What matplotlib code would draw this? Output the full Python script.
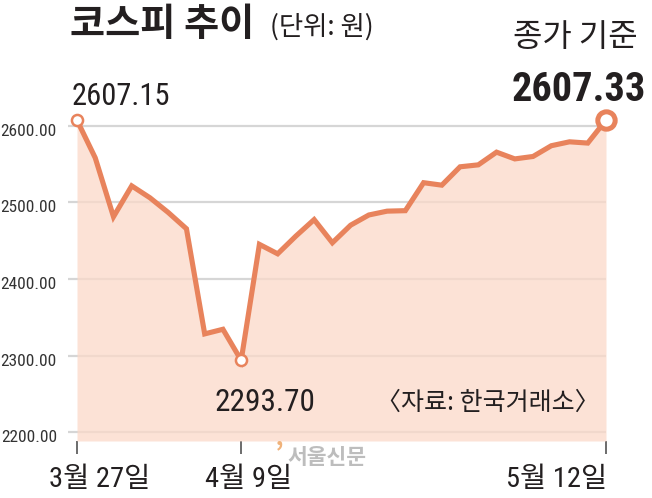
import matplotlib
matplotlib.use("Agg")
import matplotlib.pyplot as plt
from matplotlib.transforms import ScaledTranslation
import numpy as np

# ---- data (KOSPI daily close) ----
dates = ["3/27", "3/28", "3/31", "4/1", "4/2", "4/3", "4/4", "4/7", "4/8", "4/9",
         "4/10", "4/11", "4/14", "4/15", "4/16", "4/17", "4/18", "4/21", "4/22", "4/23",
         "4/24", "4/25", "4/28", "4/29", "4/30", "5/2", "5/7", "5/8", "5/9", "5/12"]
values = [2607.15, 2557.98, 2481.12, 2521.39, 2505.86, 2486.70, 2465.42, 2328.20, 2334.23, 2293.70,
          2445.06, 2432.72, 2455.89, 2477.41, 2447.14, 2470.10, 2483.42, 2488.42, 2489.04, 2525.56,
          2522.33, 2546.30, 2548.86, 2565.42, 2556.61, 2559.79, 2573.80, 2578.93, 2577.27, 2607.33]
ytick_values = [2200, 2300, 2400, 2500, 2600]
ytick_labels = ["2200.00", "2300.00", "2400.00", "2500.00", "2600.00"]
xtick_dates = ["3/27", "4/9", "5/12"]
xtick_labels = ["3월 27일", "4월 9일", "5월 12일"]

LINE = "#e8835c"
FILL = "#fbd9c9"
DARK = "#231f20"
NUM = ["Roboto Condensed", "Noto Sans CJK KR", "DejaVu Sans"]
KR = ["Noto Sans CJK KR", "DejaVu Sans"]

W, H = 652, 498
fig = plt.figure(figsize=(W / 100, H / 100), dpi=100)

def fx(px):
    return px / W

def fy(py):
    return 1 - py / H

ax = fig.add_axes([fx(68), fy(441), fx(606) - fx(68), fy(100) - fy(441)])
x = np.arange(len(values))
ax.set_xlim(-9 / 18.24, len(values) - 1)
ax.set_ylim(2188.4, 2633.5)

# gridlines
for v in ytick_values:
    ax.axhline(v, color="#d6d6d6", lw=1.6, zorder=1)

# area fill
ax.fill_between(x, values, ax.get_ylim()[0], color=FILL, alpha=0.75, lw=0, zorder=2)
ax.plot(x, values, color=LINE, lw=3.7, solid_joinstyle="miter", zorder=3, clip_on=False)

# markers
i_min = int(np.argmin(values))
ax.plot([0], [values[0]], "o", ms=8, mfc="white", mec=LINE, mew=1.8, zorder=4, clip_on=False)
ax.plot([i_min], [values[i_min]], "o", ms=8, mfc="white", mec=LINE, mew=1.8, zorder=4, clip_on=False)
ax.plot([len(values) - 1], [values[-1]], "o", ms=12.5, mfc="white", mec=LINE, mew=3.6, zorder=4, clip_on=False)

for s in ax.spines.values():
    s.set_visible(False)
ax.set_facecolor("none")

# y ticks
ax.set_yticks(ytick_values)
ax.set_yticklabels(ytick_labels, family=NUM, fontsize=12.5, color="#333333")
ax.tick_params(axis="y", length=0, pad=8)
for lab in ax.get_yticklabels():
    lab.set_transform(lab.get_transform() + ScaledTranslation(0, -4 / 100, fig.dpi_scale_trans))

# x ticks
ax.set_xticks([dates.index(d) for d in xtick_dates])
ax.set_xticklabels(xtick_labels, family=NUM, fontsize=20.5, color=DARK)
ax.tick_params(axis="x", length=9, width=1.1, color="#444444", pad=9, direction="out")
offsets = [23, 7, -49]
for lab, dx in zip(ax.get_xticklabels(), offsets):
    lab.set_transform(lab.get_transform() + ScaledTranslation(dx / 100, 0, fig.dpi_scale_trans))

# titles and annotations
fig.text(fx(70), fy(36), "코스피 추이", family=KR, fontweight="bold", fontsize=27.5, color=DARK, va="baseline")
fig.text(fx(270), fy(35), "(단위: 원)", family=KR, fontsize=19, color=DARK, va="baseline")
fig.text(fx(638), fy(46), "종가 기준", family=KR, fontsize=23, color=DARK, ha="right", va="baseline")
fig.text(fx(646), fy(101), f"{values[-1]:.2f}", family=NUM, fontweight="bold", fontsize=29,
         color=DARK, ha="right", va="baseline")
fig.text(fx(72), fy(105), f"{values[0]:.2f}", family=NUM, fontsize=22, color=DARK, va="baseline")
fig.text(fx(214), fy(411), f"{values[i_min]:.2f}", family=NUM, fontsize=22.5, color=DARK, va="baseline")
fig.text(fx(600), fy(410), "〈자료: 한국거래소〉", family=KR, fontsize=18, color=DARK, ha="right", va="baseline")

# watermark
fig.text(fx(275), fy(462), "’", family=KR, fontweight="bold", fontsize=20, color="#f0b27a", va="baseline")
fig.text(fx(287), fy(464), "서울신문", family=KR, fontweight="bold", fontsize=15.5, color="#bdbdbd", va="baseline")

fig.savefig("out.png", dpi=100)
